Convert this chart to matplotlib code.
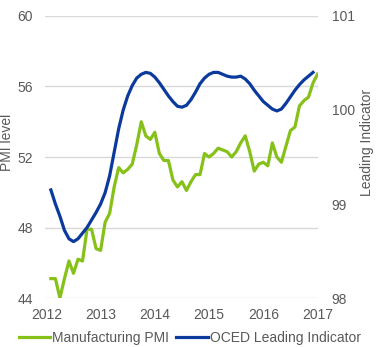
import matplotlib
matplotlib.use("Agg")
import matplotlib.pyplot as plt
import numpy as np

plt.rcParams['font.family'] = ['Liberation Sans', 'DejaVu Sans']

# monthly values, May 2012 - Apr 2017
pmi = [45.1, 45.1, 44.0, 45.1, 46.1, 45.4, 46.2, 46.1,
       47.9, 47.9, 46.8, 46.7, 48.3, 48.8, 50.3, 51.4, 51.1, 51.3, 51.6, 52.7,
       54.0, 53.2, 53.0, 53.4, 52.2, 51.8, 51.8, 50.7, 50.3, 50.6, 50.1, 50.6,
       51.0, 51.0, 52.2, 52.0, 52.2, 52.5, 52.4, 52.3, 52.0, 52.3, 52.8, 53.2,
       52.3, 51.2, 51.6, 51.7, 51.5, 52.8, 52.0, 51.7, 52.6, 53.5, 53.7, 54.9,
       55.2, 55.4, 56.2, 56.7]
# OECD leading indicator, May 2012 - Mar 2017
cli = [99.15, 99.00, 98.87, 98.72, 98.63, 98.60, 98.63, 98.69, 98.75, 98.83,
       98.91, 99.00, 99.12, 99.30, 99.55, 99.80, 100.00, 100.15, 100.26, 100.34,
       100.38, 100.40, 100.39, 100.35, 100.29, 100.22, 100.15, 100.09, 100.04, 100.03,
       100.05, 100.11, 100.19, 100.28, 100.34, 100.38, 100.40, 100.40, 100.38, 100.36,
       100.35, 100.35, 100.36, 100.33, 100.28, 100.21, 100.15, 100.09, 100.05, 100.01,
       99.99, 100.01, 100.07, 100.14, 100.21, 100.27, 100.32, 100.36, 100.40]
year_labels = ['2012', '2013', '2014', '2015', '2016', '2017']

green = '#86C11A'
blue = '#0B3A9C'
grey = '#595959'

fig = plt.figure(figsize=(3.76, 3.47), dpi=100)
ax = fig.add_axes([0.1197, 0.1412, 0.726, 0.8127])
ax2 = ax.twinx()

l1, = ax.plot(np.arange(len(pmi)), pmi, color=green, lw=2.3, label='Manufacturing PMI')
l2, = ax2.plot(np.arange(len(cli)), cli, color=blue, lw=2.3, label='OCED Leading Indicator')

ax.set_ylim(44, 60)
ax.set_yticks([44, 48, 52, 56, 60])
ax2.set_ylim(98, 101)
ax2.set_yticks([98, 99, 100, 101])
ax.set_xlim(-1.3, 59.1)
ax.set_xticks([-1, 11, 23, 35, 47, 59])
ax.set_xticklabels(year_labels)

ax.grid(axis='y', color='#D9D9D9', lw=1)
ax.set_axisbelow(True)
for a in (ax, ax2):
    for s in a.spines.values():
        s.set_visible(False)
    a.tick_params(length=0, labelsize=10, colors=grey)
ax.tick_params(axis='y', pad=8.5)
ax.tick_params(axis='x', pad=7)
ax2.tick_params(axis='y', pad=10)

# axis titles placed in figure coords so they stay inside the image
fig.text(7.5 / 376, 1 - 142.5 / 347, 'PMI level', rotation=90, ha='center', va='center',
         fontsize=10, color=grey)
fig.text(367.5 / 376, 1 - 142.5 / 347, 'Leading Indicator', rotation=90, ha='center',
         va='center', fontsize=10, color=grey)

fig.legend(handles=[l1, l2], loc='center', bbox_to_anchor=(0.505, 0.026), ncol=2,
           frameon=False, fontsize=10, handlelength=2.25, handletextpad=0.15,
           columnspacing=0.5, labelcolor=grey, borderaxespad=0, borderpad=0)

fig.savefig('out.png', dpi=100)
